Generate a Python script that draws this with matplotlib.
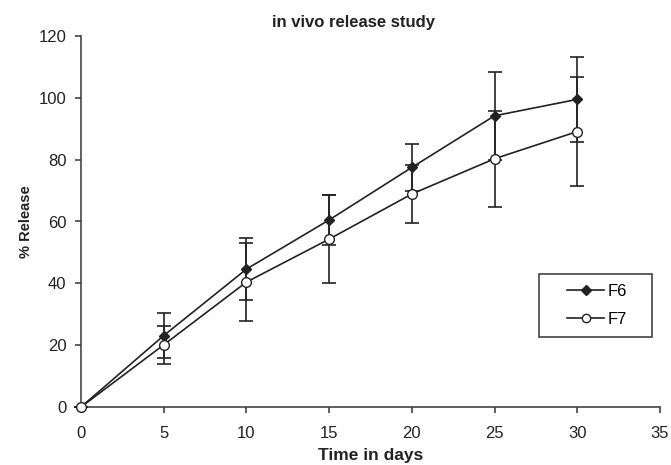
import matplotlib.pyplot as plt
from matplotlib.lines import Line2D
from matplotlib.patches import Rectangle
import numpy as np

plt.rcParams['font.family'] = ['Liberation Sans', 'DejaVu Sans']

# time points (days)
days = [0, 5, 10, 15, 20, 25, 30]

# % release and standard deviations
f6 = [0, 23.1, 44.6, 60.5, 77.5, 94.2, 99.5]
f6_err = [0, 7.2, 10.0, 8.1, 7.7, 14.2, 13.7]
f7 = [0, 20.1, 40.4, 54.3, 68.9, 80.3, 89.1]
f7_err = [0, 6.1, 12.6, 14.3, 9.3, 15.5, 17.6]

dark = '#222222'

fig = plt.figure(figsize=(6.71, 4.65), dpi=100)
ax = fig.add_axes([81/671, 58/465, 579/671, 371/465])

ax.errorbar(days, f6, yerr=f6_err, color=dark, marker='D', markersize=5,
            markerfacecolor=dark, lw=1.2, elinewidth=1.2, capsize=5,
            capthick=1.2, zorder=3, clip_on=False)
ax.errorbar(days, f7, yerr=f7_err, color=dark, marker='o', markersize=7,
            markerfacecolor='white', lw=1.2, elinewidth=1.2, capsize=5,
            capthick=1.2, zorder=4, clip_on=False)

ax.set_xlim(0, 35)
ax.set_ylim(0, 120)
ax.set_xticks(np.arange(0, 36, 5))
ax.set_yticks(np.arange(0, 121, 20))
ax.spines['top'].set_visible(False)
ax.spines['right'].set_visible(False)
for s in ['left', 'bottom']:
    ax.spines[s].set_color('#444444')
    ax.spines[s].set_linewidth(1.2)
ax.tick_params(direction='out', length=4, width=1.2, color='#444444',
               labelsize=12, labelcolor=dark)
ax.tick_params(axis='x', pad=10)
ax.tick_params(axis='y', pad=6.5)

ax.set_xlabel('Time in days', fontsize=12.5, fontweight='bold', color=dark, labelpad=5)
ax.set_ylabel('% Release', fontsize=10.5, fontweight='bold', color=dark, labelpad=4)
fig.text(354/671, 1 - 22/465, 'in vivo release study', fontsize=12,
         fontweight='bold', color=dark, ha='center', va='center')

# legend frame drawn as a box, legend entries centred in it
box = (0.791, 0.189, 0.195, 0.17)
ax.add_patch(Rectangle(box[:2], box[2], box[3], transform=ax.transAxes,
                       facecolor='white', edgecolor='#444444', lw=1.2,
                       zorder=5, clip_on=False))
h6 = Line2D([], [], color=dark, marker='D', markersize=5, markerfacecolor=dark, lw=1.2)
h7 = Line2D([], [], color=dark, marker='o', markersize=6, markerfacecolor='white', lw=1.2)
leg = ax.legend([h6, h7], ['F6', 'F7'], loc='center',
                bbox_to_anchor=(box[0] + box[2] / 2 + 0.003, box[1] + box[3] / 2),
                fontsize=12, frameon=False, handlelength=2.2,
                labelspacing=0.75, handletextpad=0.2, borderpad=0)
leg.set_zorder(6)

fig.savefig('out.png', dpi=100)
